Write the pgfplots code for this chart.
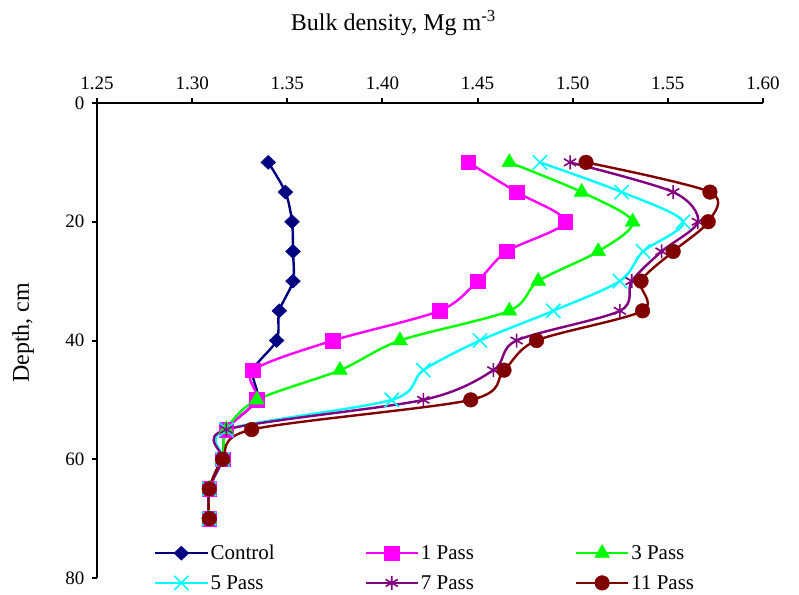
\documentclass[border=0pt]{standalone}
\usepackage{fontspec}
\setmainfont{Liberation Serif}
\usepackage{pgfplots}
\pgfplotsset{compat=1.18}
\definecolor{cNavy}{RGB}{0,0,128}
\definecolor{cMag}{RGB}{255,0,255}
\definecolor{cGreen}{RGB}{0,255,0}
\definecolor{cCyan}{RGB}{0,255,255}
\definecolor{cPurple}{RGB}{128,0,128}
\definecolor{cMaroon}{RGB}{128,0,0}
\begin{document}
\begin{tikzpicture}[x=1pt,y=1pt]
\useasboundingbox (-97,-16) rectangle (702,578);
\begin{axis}[
  at={(0,0)}, anchor=south west,
  scale only axis, width=666pt, height=475pt,
  xmin=1.25, xmax=1.60, ymin=0, ymax=80, y dir=reverse,
  axis x line*=top, axis y line*=left,
  axis line style={-, line width=2pt},
  xtick={1.25,1.30,1.35,1.40,1.45,1.50,1.55,1.60},
  ytick={0,20,40,60,80},
  tick align=outside, major tick length=5pt,
  tick style={line width=2pt, black},
  /pgf/number format/assume math mode=true,
  xticklabel style={/pgf/number format/.cd, fixed, fixed zerofill, precision=2, /tikz/.cd, yshift=5pt},
  yticklabel style={xshift=-4pt},
  ticklabel style={font=\fontsize{19}{22}\selectfont},
  xlabel={Bulk density, Mg m\textsuperscript{-3}},
  xlabel style={at={(axis description cs:0.445,1.1516)}, anchor=base, font=\fontsize{24}{28}\selectfont},
  ylabel={Depth, cm},
  ylabel style={at={(axis description cs:-0.111,0.516)}, anchor=center, rotate=0, font=\fontsize{24}{28}\selectfont},
  legend columns=3,
  legend style={draw=none, fill=none, at={(axis description cs:0.081,0.078)}, anchor=north west,
    font=\fontsize{21}{25}\selectfont, row sep=10pt},
  legend image code/.code={\draw[mark repeat=2,mark phase=2] plot coordinates {(0pt,0pt) (26pt,0pt) (52pt,0pt)};},
  every axis plot/.append style={line width=2.4pt, smooth, tension=0.5},
]
\addplot[color=cNavy, mark=diamond*, mark size=7pt, mark options={solid, line width=0.5pt, xscale=1.4}] coordinates {
(1.340,10)(1.349,15)(1.3525,20)(1.353,25)(1.353,30)(1.3458,35)(1.3444,40)(1.332,45)(1.334,50)(1.318,55)(1.316,60)(1.309,65)(1.309,70)};
\addlegendentry{\makebox[152pt][l]{Control}}
\addplot[color=cMag, mark=square*, mark size=7.3pt, mark options={solid, line width=0.5pt}] coordinates {
(1.445,10)(1.4705,15)(1.496,20)(1.4653,25)(1.450,30)(1.430,35)(1.374,40)(1.332,45)(1.334,50)(1.318,55)(1.316,60)(1.309,65)(1.309,70)};
\addlegendentry{\makebox[152pt][l]{1 Pass}}
\addplot[color=cGreen, mark=triangle*, mark size=8.6pt, mark options={solid, line width=0.5pt}] coordinates {
(1.4667,10)(1.5047,15)(1.5315,20)(1.5134,25)(1.4819,30)(1.4667,35)(1.4092,40)(1.3777,45)(1.334,50)(1.318,55)(1.316,60)(1.309,65)(1.309,70)};
\addlegendentry{\makebox[152pt][l]{3 Pass}}
\addplot[color=cCyan, mark=x, mark size=10pt, mark options={solid, line width=1.6pt}] coordinates {
(1.4828,10)(1.5257,15)(1.558,20)(1.537,25)(1.5248,30)(1.4898,35)(1.4513,40)(1.4215,45)(1.4049,50)(1.318,55)(1.316,60)(1.309,65)(1.309,70)};
\addlegendentry{\makebox[152pt][l]{5 Pass}}
\addplot[color=cPurple, mark=asterisk, mark size=7pt, mark options={solid, line width=1.6pt}] coordinates {
(1.4986,10)(1.5528,15)(1.5658,20)(1.5467,25)(1.531,30)(1.5248,35)(1.4705,40)(1.4583,45)(1.4215,50)(1.318,55)(1.316,60)(1.309,65)(1.309,70)};
\addlegendentry{\makebox[152pt][l]{7 Pass}}
\addplot[color=cMaroon, mark=*, mark size=7.3pt, mark options={solid, line width=0.5pt}] coordinates {
(1.507,10)(1.5721,15)(1.5712,20)(1.5528,25)(1.5359,30)(1.5367,35)(1.481,40)(1.4639,45)(1.4464,50)(1.3313,55)(1.316,60)(1.309,65)(1.309,70)};
\addlegendentry{\makebox[152pt][l]{11 Pass}}
\end{axis}
\end{tikzpicture}
\end{document}
